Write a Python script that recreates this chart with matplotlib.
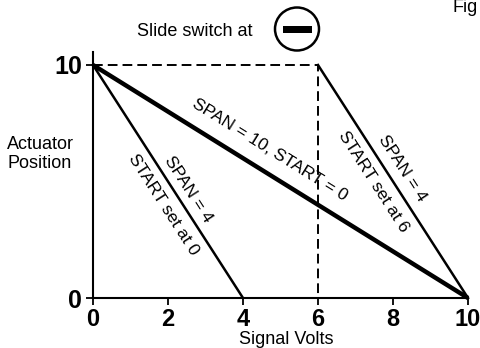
import numpy as np
import matplotlib
matplotlib.use("Agg")
import matplotlib.pyplot as plt
from matplotlib.patches import Ellipse, Rectangle

plt.rcParams['font.family'] = ['Liberation Sans', 'DejaVu Sans']

# data
volts_full = [0, 10]
pos_full = [10, 0]
volts_start0 = [0, 4]
pos_start0 = [10, 0]
volts_start6 = [6, 10]
pos_start6 = [10, 0]
volts_guide = [0, 6, 6]
pos_guide = [10, 10, 0]
x_ticks = [0, 2, 4, 6, 8, 10]
y_ticks = [0, 10]

fig = plt.figure(figsize=(4.8, 3.48), dpi=100)
ax = fig.add_axes([93/480, 1-298/348, 375/480, 246/348])
ax.set_xlim(0, 10)
ax.set_ylim(0, 10 * 246 / 233)

ax.plot(volts_guide, pos_guide, color='black', lw=1.4, ls=(0, (5, 2.6)), clip_on=False)
ax.plot(volts_full, pos_full, color='black', lw=3.2, clip_on=False, solid_capstyle='butt')
ax.plot(volts_start0, pos_start0, color='black', lw=1.8, clip_on=False)
ax.plot(volts_start6, pos_start6, color='black', lw=1.8, clip_on=False)

for s in ['top', 'right']:
    ax.spines[s].set_visible(False)
for s in ['left', 'bottom']:
    ax.spines[s].set_linewidth(1.5)

ax.set_xticks(x_ticks)
ax.set_xticklabels([str(v) for v in x_ticks], fontsize=17, fontweight='bold')
ax.set_yticks(y_ticks)
ax.set_yticklabels([str(v) for v in y_ticks], fontsize=18, fontweight='bold')
ax.tick_params(axis='x', direction='out', length=5, width=1.3, pad=2)
ax.tick_params(axis='y', direction='inout', length=10, width=1.3, pad=3)


def screen_angle(xs, ys):
    p = ax.transData.transform(np.column_stack([xs, ys]))
    return np.degrees(np.arctan2(p[1, 1] - p[0, 1], p[1, 0] - p[0, 0]))


a_full = screen_angle(volts_full, pos_full)
a_steep = screen_angle(volts_start0, pos_start0)

kw = dict(ha='center', va='center', rotation_mode='anchor', fontsize=12.5)
ax.text(4.72, 6.35, 'SPAN = 10, START = 0', rotation=a_full, **kw)
ax.text(2.53, 4.68, 'SPAN = 4', rotation=a_steep, **kw)
ax.text(1.87, 3.99, 'START set at 0', rotation=a_steep, **kw)
ax.text(8.24, 5.58, 'SPAN = 4', rotation=a_steep, **kw)
ax.text(7.49, 4.98, 'START set at 6', rotation=a_steep, **kw)

fig.text(286/480, 1-340/348, 'Signal Volts', ha='center', va='center', fontsize=13)
fig.text(40/480, 1-154/348, 'Actuator\nPosition', ha='center', va='center',
         fontsize=13, multialignment='center', linespacing=1.1)
fig.text(195/480, 1-32/348, 'Slide switch at', ha='center', va='center', fontsize=13)
fig.text(452/480, 1-8/348, 'Fig', ha='left', va='center', fontsize=13)

# switch symbol
fig.patches.append(Ellipse((297/480, 1-29/348), 44/480, 43/348, transform=fig.transFigure,
                           fill=False, edgecolor='black', lw=1.8))
fig.patches.append(Rectangle((283/480, 1-33/348), 29/480, 7/348, transform=fig.transFigure,
                             facecolor='black', edgecolor='none'))

fig.savefig('out.png', dpi=100)
